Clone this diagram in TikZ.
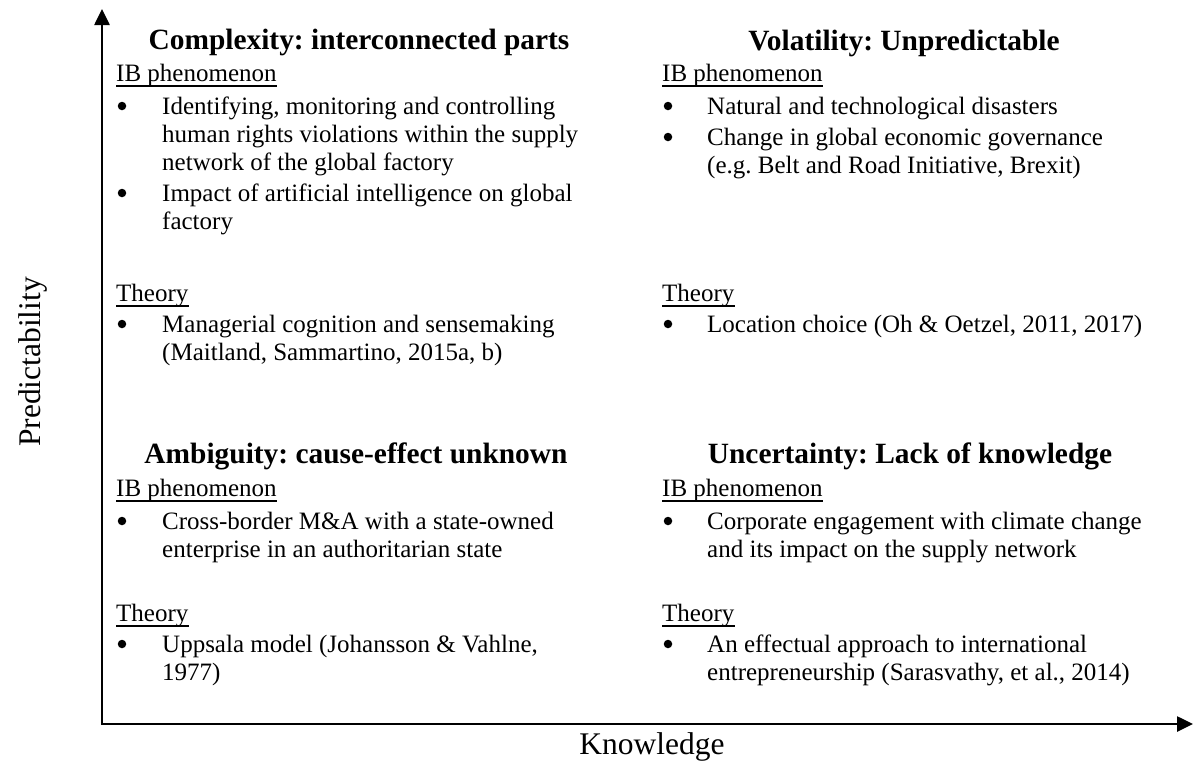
\documentclass[tikz,border=0pt]{standalone}
\usepackage{fontspec}
\setmainfont{Liberation Serif}
\usetikzlibrary{arrows.meta}
\frenchspacing
\newcommand\bodyfnt{\fontsize{25}{28}\selectfont}
\newcommand\headfnt{\fontsize{29.4}{33}\selectfont\bfseries}
\newcommand\axisfnt{\fontsize{31.5}{36}\selectfont}
\tikzset{
  txt/.style={anchor=base west, inner sep=0pt, font=\bodyfnt},
  bul/.style={circle, fill=black, inner sep=0pt, minimum size=8.5pt, yshift=8pt},
  head/.style={anchor=base, inner sep=0pt, font=\headfnt},
  lab/.style={anchor=base west, inner sep=0pt, font=\bodyfnt},
  uline/.style={line width=1.6pt},
  axis/.style={line width=2.6pt, line join=miter,
    {Triangle[length=16pt,width=15pt]}-{Triangle[length=16pt,width=15pt]}},
  axlab/.style={inner sep=0pt, font=\axisfnt}
}
\begin{document}
\begin{tikzpicture}[x=1pt,y=-1pt]
\useasboundingbox (0,0) rectangle (1193,761);
% axes
\coordinate (ytop) at (102,9);
\coordinate (origin) at (102,724);
\coordinate (xend) at (1193,724);
\draw[axis] (ytop) -- (origin) -- (xend);
\node[axlab, anchor=base] (klab) at (652,754) {Knowledge};
\node[axlab, anchor=base, rotate=90] (plab) at (40,362) {Predictability};

% ---------- top left ----------
\node[head] (h1) at (359,49) {Complexity: interconnected parts};
\node[lab] (ib1) at (116,81) {IB phenomenon};
\draw[uline] ([yshift=-5pt]ib1.base west) -- ([yshift=-5pt]ib1.base east);
\node[bul] (b11) at (122,114) {};
\node[txt] (t11a) at (162,114) {Identifying, monitoring and controlling};
\node[txt] (t11b) at (162,142) {human rights violations within the supply};
\node[txt] (t11c) at (162,170) {network of the global factory};
\node[bul] (b12) at (122,201) {};
\node[txt] (t12a) at (162,201) {Impact of artificial intelligence on global};
\node[txt] (t12b) at (162,229) {factory};
\node[lab] (th1) at (116,301) {Theory};
\draw[uline] ([yshift=-5pt]th1.base west) -- ([yshift=-5pt]th1.base east);
\node[bul] (b13) at (122,332) {};
\node[txt] (t13a) at (162,332) {Managerial cognition and sensemaking};
\node[txt] (t13b) at (162,360) {(Maitland, Sammartino, 2015a, b)};

% ---------- top right ----------
\node[head] (h2) at (904,50) {Volatility: Unpredictable};
\node[lab] (ib2) at (662,81) {IB phenomenon};
\draw[uline] ([yshift=-5pt]ib2.base west) -- ([yshift=-5pt]ib2.base east);
\node[bul] (b21) at (668,114) {};
\node[txt] (t21a) at (707,114) {Natural and technological disasters};
\node[bul] (b22) at (668,145) {};
\node[txt] (t22a) at (707,145) {Change in global economic governance};
\node[txt] (t22b) at (707,173) {(e.g. Belt and Road Initiative, Brexit)};
\node[lab] (th2) at (662,301) {Theory};
\draw[uline] ([yshift=-5pt]th2.base west) -- ([yshift=-5pt]th2.base east);
\node[bul] (b23) at (668,332) {};
\node[txt] (t23a) at (707,332) {Location choice (Oh \& Oetzel, 2011, 2017)};

% ---------- bottom left ----------
\node[head] (h3) at (356,463) {Ambiguity: cause-effect unknown};
\node[lab] (ib3) at (116,496) {IB phenomenon};
\draw[uline] ([yshift=-5pt]ib3.base west) -- ([yshift=-5pt]ib3.base east);
\node[bul] (b31) at (122,529) {};
\node[txt] (t31a) at (162,529) {Cross-border M\&A with a state-owned};
\node[txt] (t31b) at (162,557) {enterprise in an authoritarian state};
\node[lab] (th3) at (116,621) {Theory};
\draw[uline] ([yshift=-5pt]th3.base west) -- ([yshift=-5pt]th3.base east);
\node[bul] (b32) at (122,652) {};
\node[txt] (t32a) at (162,652) {Uppsala model (Johansson \& Vahlne,};
\node[txt] (t32b) at (162,680) {1977)};

% ---------- bottom right ----------
\node[head] (h4) at (910,463) {Uncertainty: Lack of knowledge};
\node[lab] (ib4) at (662,496) {IB phenomenon};
\draw[uline] ([yshift=-5pt]ib4.base west) -- ([yshift=-5pt]ib4.base east);
\node[bul] (b41) at (668,529) {};
\node[txt] (t41a) at (707,529) {Corporate engagement with climate change};
\node[txt] (t41b) at (707,557) {and its impact on the supply network};
\node[lab] (th4) at (662,621) {Theory};
\draw[uline] ([yshift=-5pt]th4.base west) -- ([yshift=-5pt]th4.base east);
\node[bul] (b42) at (668,652) {};
\node[txt] (t42a) at (707,652) {An effectual approach to international};
\node[txt] (t42b) at (707,680) {entrepreneurship (Sarasvathy, et al., 2014)};
\end{tikzpicture}
\end{document}
